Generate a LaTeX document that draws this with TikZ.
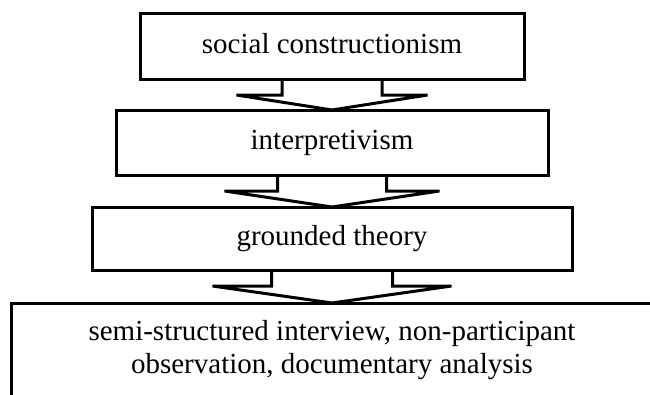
\documentclass[tikz,border=0pt]{standalone}
\usepackage{fontspec}
\setmainfont{Liberation Serif}
\usetikzlibrary{calc}
\tikzset{
  stagebox/.style={draw=black, line width=3pt, fill=white, rectangle, inner sep=0pt, outer sep=0pt,
    font=\fontsize{29}{33}\selectfont},
  onetext/.style={text height=20pt, text depth=6pt},
  arrowline/.style={draw=black, line width=3pt, line join=miter}
}
\newcommand\blkarrow[4]{%
  \draw[arrowline] ($(#1.south)+(-#3,0)$) -- ($(#1.south)+(-#3,16)$) -- ($(#1.south)+(-#4,16)$)
    -- (#2.north) -- ($(#1.south)+(#4,16)$) -- ($(#1.south)+(#3,16)$) -- ($(#1.south)+(#3,0)$);}
\begin{document}
\begin{tikzpicture}[x=1pt, y=-1pt]
  \useasboundingbox (0,0) rectangle (650,394);
  \clip (0,0) rectangle (650,394);
  \node[stagebox, onetext, minimum width=384pt, minimum height=66pt] (b1) at (332,46) {social constructionism};
  \node[stagebox, onetext, minimum width=432pt, minimum height=65pt] (b2) at (332,142.5) {interpretivism};
  \node[stagebox, onetext, minimum width=480pt, minimum height=63pt] (b3) at (332,238.5) {grounded theory};
  \node[stagebox, align=center, minimum width=642pt, minimum height=94pt] (b4) at (332,350)
    {semi-structured interview, non-participant\\observation, documentary analysis};
  \blkarrow{b1}{b2}{50}{95.5}
  \blkarrow{b2}{b3}{54.5}{107.5}
  \blkarrow{b3}{b4}{60.5}{119.5}
\end{tikzpicture}
\end{document}
